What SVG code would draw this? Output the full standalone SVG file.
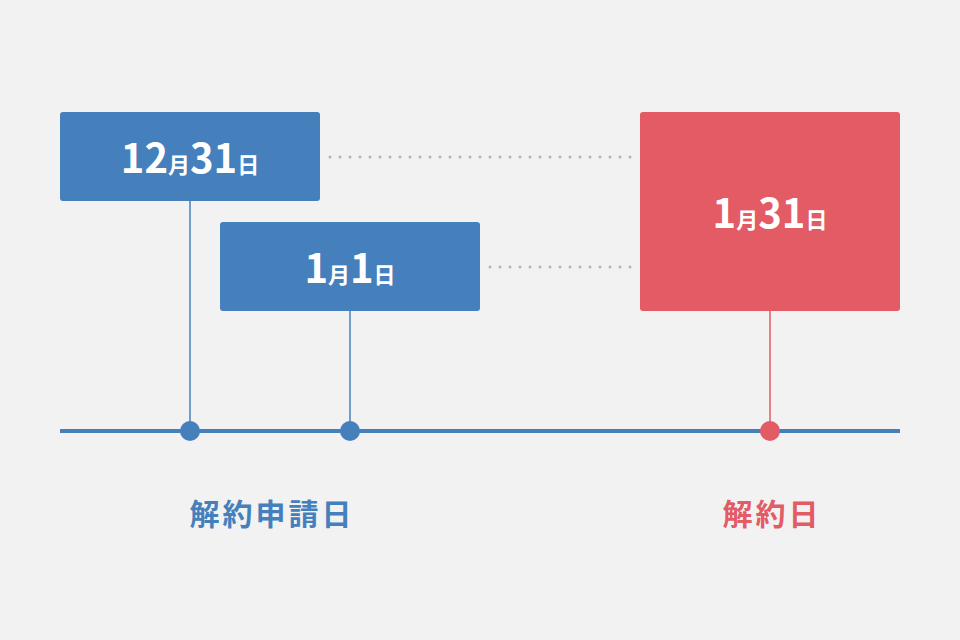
<svg xmlns="http://www.w3.org/2000/svg" width="960" height="640" viewBox="0 0 960 640">
<style>
.b{fill:#4580bd}.r{fill:#e25b65}
.t{font-family:"Noto Sans CJK JP","Noto Sans",sans-serif;font-weight:bold;fill:#fff;text-anchor:middle}
.n{font-size:40px}.k{font-size:22px}
.lab{font-family:"Noto Sans CJK JP",sans-serif;font-weight:bold;font-size:30px;text-anchor:middle;letter-spacing:3px}
.dot{stroke:#b4b4b4;stroke-width:3;stroke-linecap:round;stroke-dasharray:0 10}
</style>
<rect width="960" height="640" fill="#f2f2f2"/>
<g id="connectors">
<line class="dot" x1="330" y1="157" x2="632" y2="157"/>
<line class="dot" x1="490" y1="267" x2="632" y2="267"/>
<line x1="60" y1="431" x2="900" y2="431" stroke="#4580bd" stroke-width="4"/>
<line x1="190" y1="200" x2="190" y2="431" stroke="#4580bd" stroke-width="1.5"/>
<line x1="350" y1="310" x2="350" y2="431" stroke="#4580bd" stroke-width="1.5"/>
<line x1="770" y1="310" x2="770" y2="431" stroke="#e25b65" stroke-width="1.5"/>
<circle cx="190" cy="431" r="10" class="b"/>
<circle cx="350" cy="431" r="10" class="b"/>
<circle cx="770" cy="431" r="10" class="r"/>
</g>
<g id="box1"><rect x="60" y="112" width="260" height="89" rx="3" class="b"/>
<text class="t" x="190" y="173"><tspan class="n">12</tspan><tspan class="k">月</tspan><tspan class="n">31</tspan><tspan class="k">日</tspan></text></g>
<g id="box2"><rect x="220" y="222" width="260" height="89" rx="3" class="b"/>
<text class="t" x="350" y="283"><tspan class="n">1</tspan><tspan class="k">月</tspan><tspan class="n">1</tspan><tspan class="k">日</tspan></text></g>
<g id="box3"><rect x="640" y="112" width="260" height="199" rx="3" class="r"/>
<text class="t" x="770" y="228"><tspan class="n">1</tspan><tspan class="k">月</tspan><tspan class="n">31</tspan><tspan class="k">日</tspan></text></g>
<g id="labels">
<text class="lab" x="272" y="525" fill="#4580bd">解約申請日</text>
<text class="lab" x="772" y="525" fill="#e25b65">解約日</text>
</g>
</svg>
